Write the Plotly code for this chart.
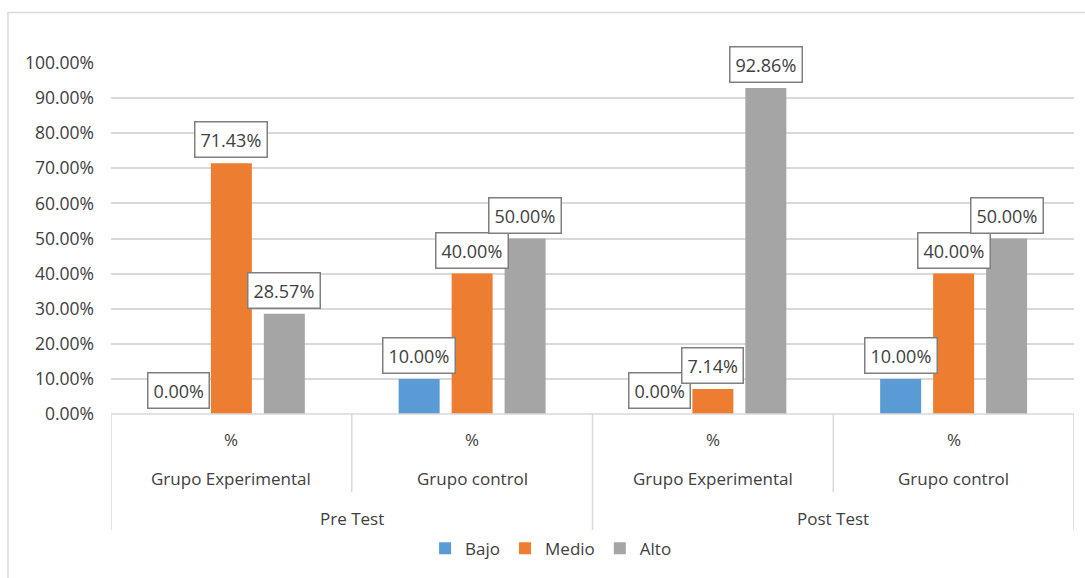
import plotly.graph_objects as go

# ---- data ----
groups = ["Grupo Experimental", "Grupo control", "Grupo Experimental", "Grupo control"]
tests = ["Pre Test", "Post Test"]
level1 = ["%", "%", "%", "%"]
series_names = ["Bajo", "Medio", "Alto"]
bajo = [0.0, 0.10, 0.0, 0.10]
medio = [0.7143, 0.40, 0.0714, 0.40]
alto = [0.2857, 0.50, 0.9286, 0.50]
y_ticks = [0.0, 0.1, 0.2, 0.3, 0.4, 0.5, 0.6, 0.7, 0.8, 0.9, 1.0]

colors = ["#5B9BD5", "#ED7D31", "#A5A5A5"]
series = [bajo, medio, alto]
FONT = "Open Sans"
TXT = "#404040"

xpos = list(range(len(groups)))
fig = go.Figure()
for name, vals, col in zip(series_names, series, colors):
    fig.add_trace(go.Bar(x=xpos, y=vals, name=name, marker_color=col,
                         marker_line_width=0, hoverinfo="skip"))

bargap = 0.34
slot = (1 - bargap) / len(series)

annotations = []
# data labels
for k, vals in enumerate(series):
    off = (k - (len(series) - 1) / 2) * slot
    for i, v in enumerate(vals):
        annotations.append(dict(
            x=i + off, y=v, xref="x", yref="y", text=f"{v*100:.2f}%",
            showarrow=False, yanchor="bottom", yshift=5,
            font=dict(family=FONT, size=18, color=TXT),
            bgcolor="white", bordercolor="#7F7F7F", borderwidth=1.5, borderpad=5))

# category labels
for i, (l1, g) in enumerate(zip(level1, groups)):
    annotations.append(dict(x=i, y=0, xref="x", yref="paper", text=l1, showarrow=False,
                            yanchor="middle", yshift=-25,
                            font=dict(family=FONT, size=17, color=TXT)))
    annotations.append(dict(x=i, y=0, xref="x", yref="paper", text=g, showarrow=False,
                            yanchor="middle", yshift=-64,
                            font=dict(family=FONT, size=17, color=TXT)))
for j, t in enumerate(tests):
    annotations.append(dict(x=2 * j + 0.5, y=0, xref="x", yref="paper", text=t, showarrow=False,
                            yanchor="middle", yshift=-104,
                            font=dict(family=FONT, size=17, color=TXT)))

shapes = []
div_col = "#D9D9D9"
# baseline
shapes.append(dict(type="line", xref="paper", yref="paper", x0=0, x1=1, y0=0, y1=0,
                   line=dict(color=div_col, width=1.5)))
# dividers
n = len(groups)
for b in range(n + 1):
    xb = b - 0.5
    long_ = (b % 2 == 0)
    shapes.append(dict(type="line", xref="x", yref="paper", ysizemode="pixel", yanchor=0,
                       x0=xb, x1=xb, y0=0, y1=-116 if long_ else -78,
                       line=dict(color=div_col, width=1.5)))
# outer chart border
shapes.append(dict(type="rect", xref="paper", yref="paper",
                   x0=-0.107, x1=1.05, y0=-0.6, y1=1.144,
                   line=dict(color="#D9D9D9", width=1.5), fillcolor="rgba(0,0,0,0)"))

fig.update_layout(
    width=1085, height=578,
    margin=dict(l=111, r=11, t=63, b=161),
    paper_bgcolor="white", plot_bgcolor="white",
    barmode="group", bargap=bargap, bargroupgap=0.226,
    font=dict(family=FONT, size=17, color=TXT),
    xaxis=dict(range=[-0.5, n - 0.5], showticklabels=False, showgrid=False,
               zeroline=False, showline=False, ticks=""),
    yaxis=dict(range=[0, 1.0], tickvals=y_ticks, tickformat=".2%",
               showgrid=True, gridcolor="#D9D9D9", gridwidth=1.5,
               zeroline=False, showline=False, ticks="",
               ticklabelstandoff=16,
               tickfont=dict(family=FONT, size=17.5, color="#404040")),
    legend=dict(orientation="h", x=0.457, xanchor="center", y=-0.384, yanchor="middle",
                font=dict(family=FONT, size=17, color=TXT), itemwidth=30,
                traceorder="normal"),
    annotations=annotations, shapes=shapes,
)

fig.write_html("out.html", config={"displayModeBar": False},
               post_script="document.body.style.margin='0';document.body.style.overflow='hidden';")
